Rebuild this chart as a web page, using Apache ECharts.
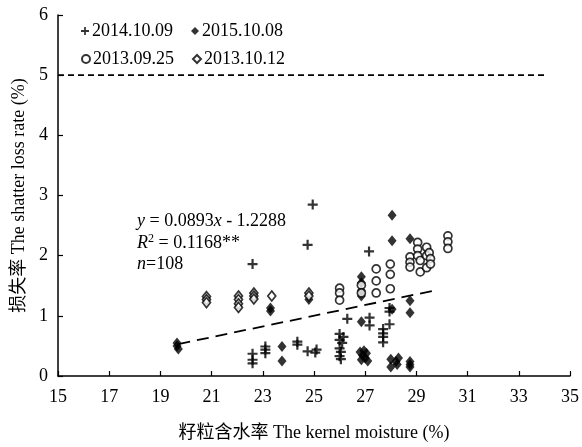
<!DOCTYPE html>
<html>
<head>
<meta charset="utf-8">
<script src="https://cdn.jsdelivr.net/npm/echarts@6/dist/echarts.min.js"></script>
<style>html,body{margin:0;padding:0;background:#fff}#c{width:582px;height:447px}</style>
</head>
<body>
<div id="c"></div>
<script>
// ---- data ----
var s2014_10_09 = [
  [22.6,1.86],[24.75,2.18],[24.95,2.85],[27.15,2.07],
  [22.6,0.37],[22.6,0.27],[22.6,0.21],
  [23.1,0.49],[23.1,0.44],[23.1,0.38],
  [24.35,0.57],[24.35,0.52],
  [24.75,0.41],[25.1,0.44],[25.05,0.39],
  [26.0,0.70],[26.15,0.65],[26.0,0.60],[26.1,0.55],[26.0,0.46],[26.05,0.40],[26.0,0.33],[26.05,0.28],
  [26.3,0.95],
  [27.17,0.97],[27.17,0.84],
  [27.95,1.13],[27.95,1.07],[27.95,0.86],[27.7,0.78],[27.7,0.71],[27.7,0.65],[27.7,0.56]
];
var s2015_10_08 = [
  [19.65,0.55],[19.65,0.50],[19.7,0.45],
  [23.3,1.13],[23.3,1.08],
  [23.75,0.49],[23.75,0.25],
  [24.8,1.27],
  [26.85,1.65],[26.85,1.55],[26.85,1.42],[26.85,1.33],[26.85,0.90],
  [26.8,0.40],[26.9,0.34],[27.0,0.30],[26.85,0.27],[27.05,0.38],[27.1,0.25],[26.95,0.42],
  [28.05,2.67],[28.05,2.25],[28.05,1.11],
  [28.0,0.28],[28.0,0.15],[28.2,0.24],[28.3,0.30],[28.25,0.19],
  [28.75,2.28],[28.75,1.25],[28.75,1.05],[28.75,0.24],[28.75,0.19],[28.75,0.15]
];
var s2013_09_25 = [
  [26.0,1.46],[26.0,1.38],[26.0,1.26],
  [26.85,1.51],[26.85,1.38],
  [27.43,1.78],[27.43,1.58],[27.43,1.38],
  [27.98,1.86],[27.98,1.69],[27.98,1.45],
  [28.75,1.98],[28.75,1.89],[28.75,1.81],
  [29.05,2.22],[29.05,2.11],[29.05,2.00],[29.15,1.92],[29.15,1.73],
  [29.4,2.14],[29.4,2.00],[29.4,1.80],[29.5,2.05],[29.55,1.95],[29.55,1.86],
  [30.23,2.33],[30.23,2.23],[30.23,2.12]
];
var s2013_10_12 = [
  [20.8,1.32],[20.8,1.27],[20.8,1.22],
  [22.05,1.33],[22.05,1.27],[22.05,1.20],[22.05,1.14],
  [22.65,1.38],[22.65,1.33],[22.65,1.28],
  [23.35,1.33],
  [24.8,1.38],[24.8,1.33]
];
var fitLine = [[19.7,0.53],[29.7,1.42]];
var refLine = [[15,5],[34,5]];
var seriesNames = ['2014.10.09','2015.10.08','2013.09.25','2013.10.12'];
var xTicks = {min:15, max:35, interval:2};
var yTicks = {min:0, max:6, interval:1};
var eqText = '{i|y} = 0.0893{i|x} - 1.2288\n{i|R}{sup|2} = 0.1168**\n{i|n}=108';
var xName = '籽粒含水率 The kernel moisture (%)';
var yName = '损失率 The shatter loss rate (%)';

// ---- chart ----
var FONT = '"Liberation Serif", "Times New Roman", "Noto Sans CJK SC", serif';
var FS = 18;
var plus = 'path://M3.9,0 L6.1,0 L6.1,3.9 L10,3.9 L10,6.1 L6.1,6.1 L6.1,10 L3.9,10 L3.9,6.1 L0,6.1 L0,3.9 L3.9,3.9 Z';
var chart = echarts.init(document.getElementById('c'), null, {renderer:'canvas'});
function sc(name, data, symbol, size, item){
  return {name:name, type:'scatter', data:data, symbol:symbol, symbolSize:size, itemStyle:item, z:3};
}
var legendBase = {
  left: 76, itemWidth: 8, itemHeight: 8, itemGap: 18,
  textStyle:{fontFamily:FONT, fontSize:FS, color:'#000', padding:[0,0,0,-2]},
  selectedMode:false
};
chart.setOption({
  animation:false,
  backgroundColor:'#fff',
  grid:{left:58, right:8, top:15, bottom:64, containLabel:false},
  legend:[
    Object.assign({top:17, data:[{name:seriesNames[0], icon:plus},{name:seriesNames[1], icon:'diamond'}]}, legendBase),
    Object.assign({top:45, data:[{name:seriesNames[2], icon:'circle'},{name:seriesNames[3], icon:'diamond'}]}, legendBase)
  ],
  xAxis:{
    type:'value', min:xTicks.min, max:xTicks.max, interval:xTicks.interval,
    splitLine:{show:false},
    axisLine:{lineStyle:{color:'#000', width:1.5}},
    axisTick:{inside:true, length:5, lineStyle:{color:'#000', width:1.2}},
    axisLabel:{color:'#000', fontFamily:FONT, fontSize:FS, margin:12},
    name:xName, nameLocation:'middle', nameGap:48,
    nameTextStyle:{color:'#000', fontFamily:FONT, fontSize:FS}
  },
  yAxis:{
    type:'value', min:yTicks.min, max:yTicks.max, interval:yTicks.interval,
    splitLine:{show:false},
    axisLine:{show:true, lineStyle:{color:'#000', width:1.5}},
    axisTick:{show:true, inside:true, length:5, lineStyle:{color:'#000', width:1.2}},
    axisLabel:{color:'#000', fontFamily:FONT, fontSize:FS, margin:10},
    name:yName, nameLocation:'middle', nameGap:29,
    nameTextStyle:{color:'#000', fontFamily:FONT, fontSize:FS}
  },
  series:[
    sc(seriesNames[0], s2014_10_09, plus, 10, {color:'#000'}),
    sc(seriesNames[1], s2015_10_08, 'diamond', [9,11], {color:'#000'}),
    sc(seriesNames[2], s2013_09_25, 'circle', 8, {color:'#fff', borderColor:'#000', borderWidth:1.7}),
    sc(seriesNames[3], s2013_10_12, 'diamond', [8,10], {color:'#fff', borderColor:'#000', borderWidth:1.7}),
    {type:'line', data:fitLine, symbol:'none', silent:true, z:2,
     lineStyle:{color:'#000', width:1.8, type:[12,7]}},
    {type:'line', data:refLine, symbol:'none', silent:true, z:2,
     lineStyle:{color:'#000', width:1.6, type:[6,4]}}
  ],
  graphic:[{
    type:'text', left:137, top:211, z:10,
    style:{
      text:eqText, fontFamily:FONT, fontSize:FS, lineHeight:21.5, fill:'#000',
      rich:{
        i:{fontFamily:FONT, fontSize:FS, fontStyle:'italic', lineHeight:21.5},
        sup:{fontFamily:FONT, fontSize:12, lineHeight:21.5, verticalAlign:'top'}
      }
    }
  }]
});
</script>
</body>
</html>
